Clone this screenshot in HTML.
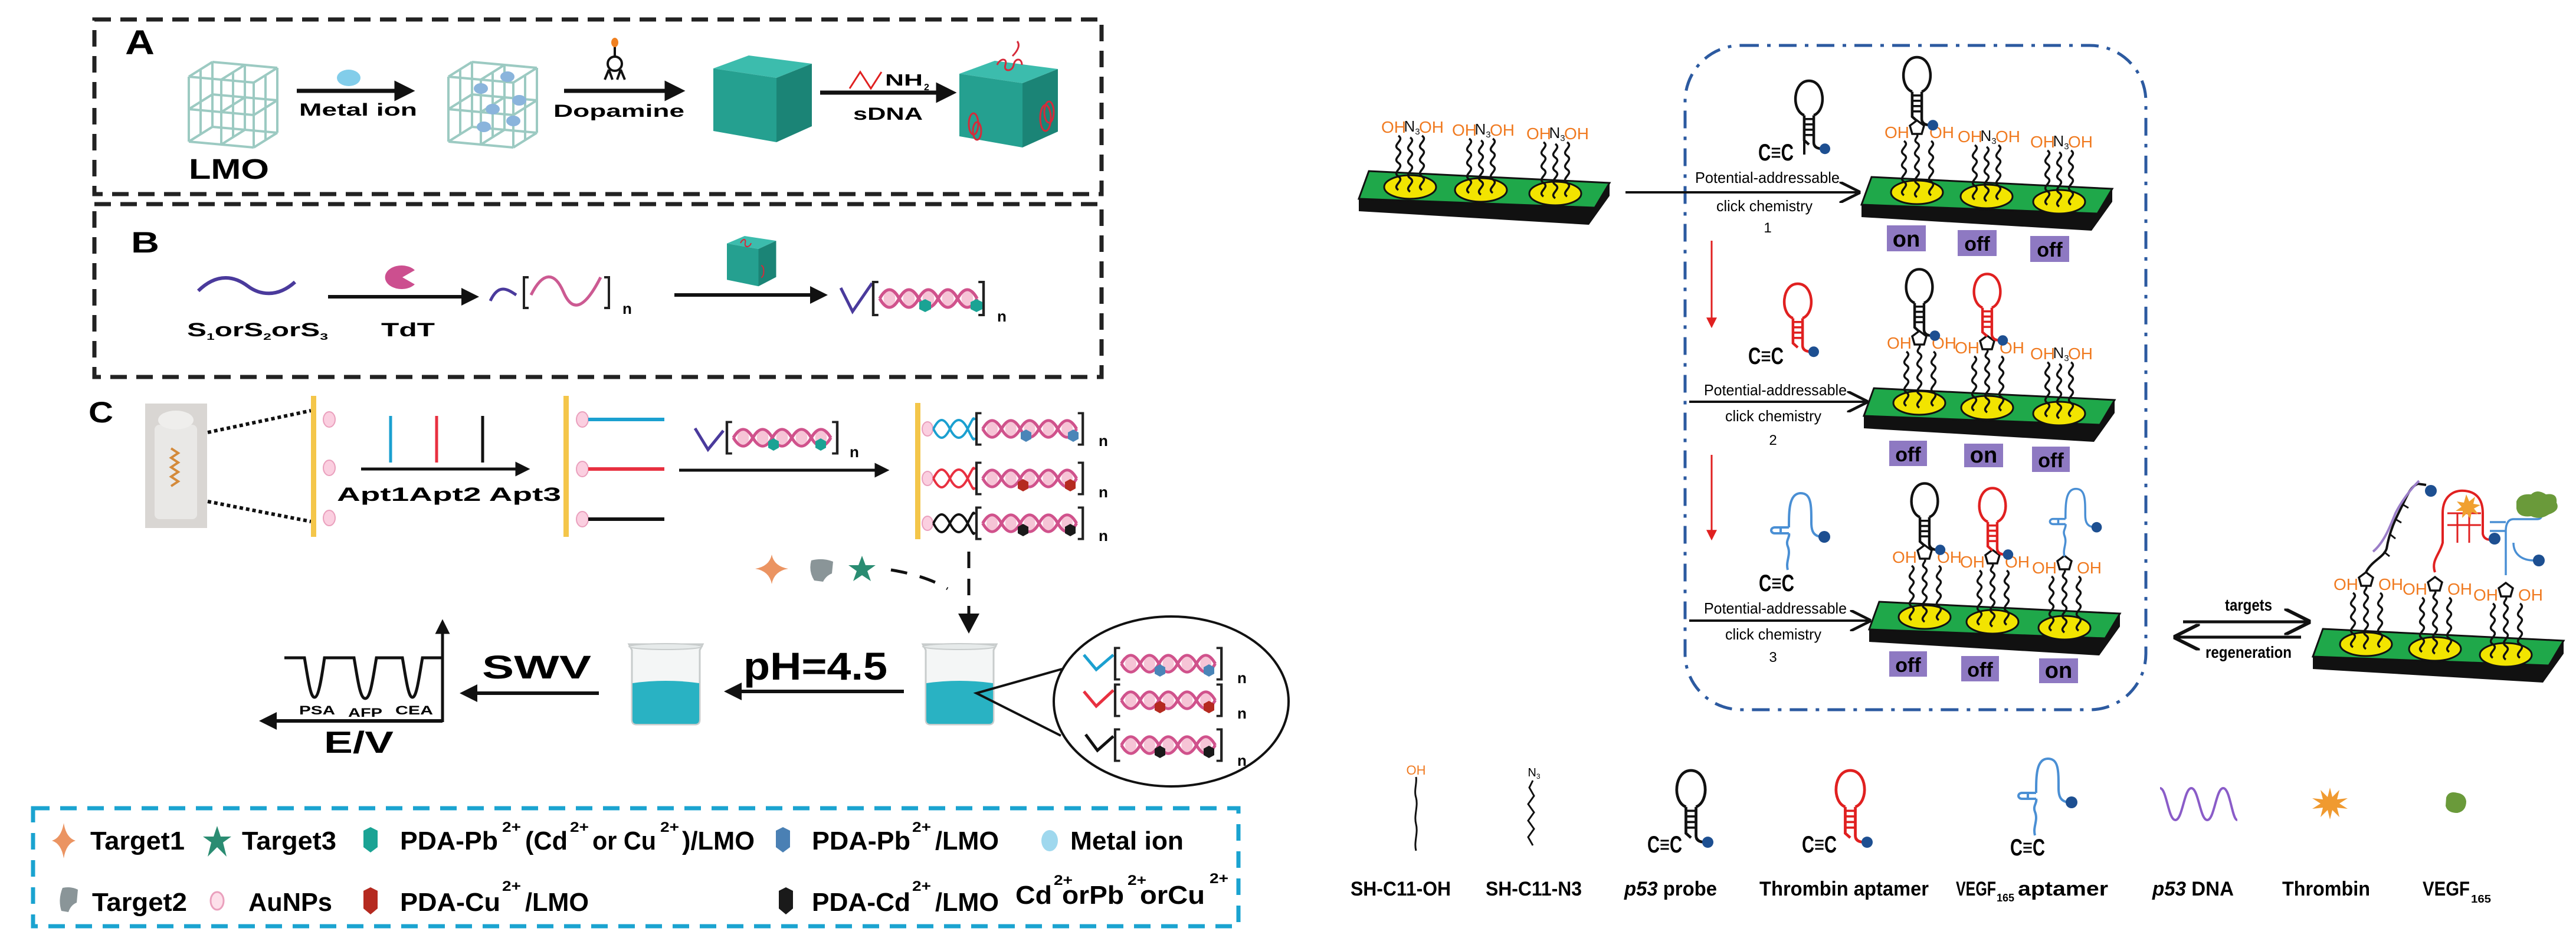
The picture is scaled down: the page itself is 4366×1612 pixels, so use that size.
<!DOCTYPE html>
<html><head><meta charset="utf-8">
<style>
html,body{margin:0;padding:0;background:#fff;}
svg{display:block;}
text{font-family:"Liberation Sans",sans-serif;}
.b{font-weight:bold;}
</style></head>
<body>
<svg width="4366" height="1612" viewBox="0 0 4366 1612" xmlns="http://www.w3.org/2000/svg">
<defs>
<marker id="ah" viewBox="0 0 10 10" refX="1" refY="5" markerWidth="5" markerHeight="5" orient="auto"><path d="M0,0 L10,5 L0,10 z" fill="#111"/></marker>
<marker id="oh" viewBox="0 0 10 10" refX="9" refY="5" markerWidth="9" markerHeight="9" orient="auto"><path d="M0,0 L10,5 L0,10" fill="none" stroke="#111" stroke-width="1.3"/></marker>
<marker id="rh" viewBox="0 0 10 10" refX="1" refY="5" markerWidth="6" markerHeight="6" orient="auto"><path d="M0,0 L10,5 L0,10 z" fill="#e02020"/></marker>

<g id="hx">
 <ellipse cx="25" cy="0" rx="9" ry="14" fill="#f6c4d6"/><ellipse cx="55" cy="0" rx="9" ry="14" fill="#f6c4d6"/>
 <ellipse cx="85" cy="0" rx="9" ry="14" fill="#f6c4d6"/><ellipse cx="115" cy="0" rx="9" ry="14" fill="#f6c4d6"/><ellipse cx="145" cy="0" rx="9" ry="14" fill="#f6c4d6"/>
 <path d="M10,0 C20,-20 30,-20 40,0 S60,20 70,0 S90,-20 100,0 S120,20 130,0 S150,-20 160,0" stroke="#d0528c" stroke-width="5" fill="none"/>
 <path d="M10,0 C20,20 30,20 40,0 S60,-20 70,0 S90,20 100,0 S120,-20 130,0 S150,20 160,0" stroke="#d0528c" stroke-width="5" fill="none"/>
 <path d="M8,-28 H0 V28 H8 M162,-28 H170 V28 H162" stroke="#222" stroke-width="4" fill="none"/>
</g>

<g id="ch"><path d="M0,0 c-12,-8 12,-15 0,-23 c-12,-8 12,-15 0,-23 c-12,-8 12,-15 0,-23 c-12,-8 12,-15 0,-23" stroke="#111" stroke-width="3.5" fill="none"/></g>
<g id="ell"><ellipse cx="0" cy="0" rx="44" ry="20" fill="#f2e400" stroke="#111" stroke-width="3"/></g>
<g id="sN">
 <use href="#ell"/>
 <use href="#ch" x="-20" y="5"/><use href="#ch" x="0" y="8"/><use href="#ch" x="20" y="5"/>
 <text x="-28" y="-92" font-size="28" fill="#f07a20" text-anchor="middle">OH</text>
 <text x="3" y="-94" font-size="26" fill="#111" text-anchor="middle">N<tspan font-size="15" dy="5">3</tspan></text>
 <text x="36" y="-92" font-size="28" fill="#f07a20" text-anchor="middle">OH</text>
</g>
<g id="sP">
 <use href="#ell"/>
 <use href="#ch" x="-22" y="5"/><use href="#ch" x="24" y="5"/>
 <path d="M0,8 c-12,-8 12,-15 0,-23 c-12,-8 12,-15 0,-23 c-12,-8 12,-15 0,-23 c-12,-8 12,-15 0,-23 c-8,-5 4,-10 0,-14" stroke="#111" stroke-width="3.5" fill="none"/>
 <polygon points="0,-122 12,-113 8,-99 -8,-99 -12,-113" fill="#fff" stroke="#111" stroke-width="3.5"/>
 <text x="-34" y="-92" font-size="28" fill="#f07a20" text-anchor="middle">OH</text>
 <text x="42" y="-92" font-size="28" fill="#f07a20" text-anchor="middle">OH</text>
</g>
<g id="hp">
 <path d="M0,0 L-9,-8 V-55 M9,-55 V-4 Q9,8 26,8" stroke="currentColor" stroke-width="5" fill="none"/>
 <path d="M-9,-18 H9 M-9,-28 H9 M-9,-38 H9 M-9,-48 H9" stroke="currentColor" stroke-width="4"/>
 <path d="M-9,-55 C-34,-65 -30,-120 0,-120 C30,-120 34,-65 9,-55" stroke="currentColor" stroke-width="5" fill="none"/>
 <circle cx="30" cy="8" r="10" fill="#1d4f91"/>
</g>
<g id="vg">
 <path d="M0,0 C-4,-15 6,-25 0,-40 C-4,-50 4,-55 2,-62 M2,-72 C2,-100 2,-130 22,-130 C40,-130 40,-110 40,-80 C40,-65 44,-58 56,-56" stroke="#4a8fd4" stroke-width="4" fill="none"/>
 <path d="M2,-62 H-22 M2,-72 H-22 M-22,-62 A6,5 0 0 1 -22,-72 M-12,-62 V-72" stroke="#4a8fd4" stroke-width="4" fill="none"/>
 <circle cx="62" cy="-56" r="10" fill="#1d4f91"/>
</g>
<g id="chip">
 <polygon points="0,47 0,68 390,91 425,42 425,20" fill="#111"/>
 <polygon points="17,0 425,20 400,62 0,47" fill="#1fa84a" stroke="#111" stroke-width="3"/>
</g>
<g id="lat" stroke="#9ccac2" stroke-width="4" fill="none">
 <path d="M0,35 V145 M55,40 V150 M110,45 V155 M0,35 L110,45 M0,90 L110,100 M0,145 L110,155"/>
 <path d="M40,10 V120 M95,15 V125 M150,20 V130 M40,10 L150,20 M40,65 L150,75 M40,120 L150,130"/>
 <path d="M0,35 L40,10 M55,40 L95,15 M110,45 L150,20 M0,90 L40,65 M55,95 L95,70 M110,100 L150,75 M0,145 L40,120 M55,150 L95,125 M110,155 L150,130"/>
 <path d="M20,22 V132 M75,27 V137 M130,32 V142"/>
</g>
<g id="cube">
 <polygon points="0,22 60,0 167,14 107,38" fill="#3cbcad"/>
 <polygon points="0,22 107,38 107,147 0,128" fill="#25a090"/>
 <polygon points="107,38 167,14 167,120 107,147" fill="#1b8476"/>
</g>
<g id="beaker">
 <path d="M0,0 H125 L120,10 V128 Q120,136 112,136 H13 Q5,136 5,128 V10 Z" fill="#f4f6f6" stroke="#c8cccc" stroke-width="3"/>
 <path d="M6,66 Q62,58 119,66 V128 Q119,135 112,135 H13 Q6,135 6,128 Z" fill="#29b2c3"/>
 <ellipse cx="62" cy="4" rx="62" ry="5" fill="#e6eaea" stroke="#c8cccc" stroke-width="2"/>
</g>
</defs>

<!-- ================= LEFT PANEL ================= -->
<rect x="160" y="33" width="1707" height="296" fill="none" stroke="#222" stroke-width="7" stroke-dasharray="28,16"/>
<text x="212" y="92" class="b" font-size="58" textLength="50" lengthAdjust="spacingAndGlyphs">A</text>
<use href="#lat" x="320" y="95"/>
<text x="320" y="303" class="b" font-size="48" textLength="136" lengthAdjust="spacingAndGlyphs">LMO</text>
<line x1="503" y1="154" x2="672" y2="154" stroke="#111" stroke-width="7" marker-end="url(#ah)"/>
<ellipse cx="591" cy="132" rx="20" ry="14" fill="#82cdea"/>
<text x="507" y="196" class="b" font-size="30" textLength="200" lengthAdjust="spacingAndGlyphs">Metal ion</text>
<use href="#lat" x="760" y="95"/>
<g fill="#8ab4dc"><ellipse cx="815" cy="150" rx="12" ry="9"/><ellipse cx="860" cy="130" rx="12" ry="9"/><ellipse cx="835" cy="185" rx="12" ry="9"/><ellipse cx="880" cy="170" rx="12" ry="9"/><ellipse cx="820" cy="215" rx="12" ry="9"/><ellipse cx="870" cy="205" rx="12" ry="9"/></g>
<line x1="956" y1="154" x2="1130" y2="154" stroke="#111" stroke-width="7" marker-end="url(#ah)"/>
<g stroke="#111" stroke-width="4" fill="none"><circle cx="1042" cy="108" r="12"/><line x1="1042" y1="78" x2="1042" y2="96"/><path d="M1032,118 L1025,135 M1032,118 L1038,135 M1052,118 L1046,135 M1052,118 L1059,135"/></g>
<ellipse cx="1042" cy="72" rx="6" ry="8" fill="#f08020"/>
<text x="938" y="198" class="b" font-size="30" textLength="222" lengthAdjust="spacingAndGlyphs">Dopamine</text>
<use href="#cube" x="1209" y="94"/>
<line x1="1390" y1="157" x2="1590" y2="157" stroke="#111" stroke-width="7" marker-end="url(#ah)"/>
<path d="M1440,150 L1458,122 L1476,150 L1494,122" stroke="#e02020" stroke-width="3" fill="none"/>
<text x="1500" y="145" class="b" font-size="28" textLength="64" lengthAdjust="spacingAndGlyphs">NH</text>
<text x="1566" y="153" class="b" font-size="16">2</text>
<text x="1446" y="203" class="b" font-size="30" textLength="118" lengthAdjust="spacingAndGlyphs">sDNA</text>
<use href="#cube" x="1626" y="103"/>
<g stroke="#d62a3a" stroke-width="3" fill="none"><path d="M1690,110 c5,-12 18,-12 14,0 c-4,12 12,12 14,0 c2,-12 14,-12 14,0 M1716,95 c8,-8 14,-18 8,-25"/><ellipse cx="1772" cy="200" rx="9" ry="22"/><ellipse cx="1778" cy="190" rx="8" ry="18"/><ellipse cx="1650" cy="210" rx="8" ry="18"/><ellipse cx="1656" cy="222" rx="7" ry="15"/></g>

<rect x="160" y="346" width="1707" height="293" fill="none" stroke="#222" stroke-width="7" stroke-dasharray="28,16"/>
<text x="222" y="428" class="b" font-size="50" textLength="48" lengthAdjust="spacingAndGlyphs">B</text>
<path d="M336,493 C370,460 400,470 420,485 S470,505 500,478" stroke="#4a3a9c" stroke-width="6" fill="none"/>
<text x="317" y="570" class="b" font-size="32" textLength="239" lengthAdjust="spacingAndGlyphs">S<tspan font-size="16" dy="6">1</tspan><tspan dy="-6">orS</tspan><tspan font-size="16" dy="6">2</tspan><tspan dy="-6">orS</tspan><tspan font-size="16" dy="6">3</tspan></text>
<line x1="556" y1="503" x2="785" y2="503" stroke="#111" stroke-width="6" marker-end="url(#ah)"/>
<path d="M677,470 m26,-12 A28,20 0 1 0 703,482 L682,470 Z" fill="#cc4f8f"/>
<text x="646" y="570" class="b" font-size="32" textLength="91" lengthAdjust="spacingAndGlyphs">TdT</text>
<path d="M831,510 C845,480 860,490 875,500" stroke="#4a3a9c" stroke-width="5" fill="none"/>
<path d="M896,470 H888 V522 H896 M1024,470 H1032 V522 H1024" stroke="#222" stroke-width="4" fill="none"/>
<path d="M900,500 C920,460 940,460 955,495 S990,525 1018,470" stroke="#cc5a92" stroke-width="5" fill="none"/>
<text x="1055" y="532" class="b" font-size="26">n</text>
<line x1="1143" y1="500" x2="1376" y2="500" stroke="#111" stroke-width="6" marker-end="url(#ah)"/>
<g transform="translate(1232,400) scale(0.5,0.58)"><use href="#cube"/></g>
<path d="M1255,412 c4,-8 10,-8 8,0 c-2,8 8,8 10,0 M1290,450 c6,0 6,20 0,20" stroke="#d62a3a" stroke-width="2" fill="none"/>
<path d="M1425,488 L1445,528 L1478,480" stroke="#4a3a9c" stroke-width="5" fill="none"/>
<g transform="translate(1480,506) scale(1.1,1)"><use href="#hx"/></g>
<polygon points="1558,512 1568,507 1578,512 1578,524 1568,529 1558,524" fill="#1aa394"/>
<polygon points="1645,512 1655,507 1665,512 1665,524 1655,529 1645,524" fill="#1aa394"/>
<text x="1690" y="545" class="b" font-size="26">n</text>

<text x="150" y="716" class="b" font-size="50" textLength="42" lengthAdjust="spacingAndGlyphs">C</text>
<rect x="246" y="684" width="105" height="211" fill="#d9d6d3"/>
<rect x="262" y="720" width="72" height="160" rx="8" fill="#e9e8e6"/>
<ellipse cx="298" cy="712" rx="30" ry="16" fill="#efeeec"/>
<path d="M290,760 l12,8 l-12,8 l12,8 l-12,8 l12,8 l-12,8 l12,8 l-12,8" stroke="#d48a3a" stroke-width="4" fill="none"/>
<line x1="352" y1="733" x2="527" y2="696" stroke="#111" stroke-width="6" stroke-dasharray="6,5"/>
<line x1="352" y1="850" x2="527" y2="884" stroke="#111" stroke-width="6" stroke-dasharray="6,5"/>
<rect x="527" y="671" width="9" height="239" fill="#f4c64a"/>
<g fill="#fbcfe0" stroke="#eaa0bd" stroke-width="2"><ellipse cx="558" cy="711" rx="10" ry="13"/><ellipse cx="558" cy="793" rx="10" ry="13"/><ellipse cx="558" cy="878" rx="10" ry="13"/></g>
<line x1="662" y1="705" x2="662" y2="784" stroke="#1ba0d0" stroke-width="5"/>
<line x1="740" y1="705" x2="740" y2="784" stroke="#e83040" stroke-width="5"/>
<line x1="818" y1="705" x2="818" y2="784" stroke="#111" stroke-width="5"/>
<line x1="612" y1="795" x2="876" y2="795" stroke="#111" stroke-width="5" marker-end="url(#ah)"/>
<text x="571" y="849" class="b" font-size="32" textLength="380" lengthAdjust="spacingAndGlyphs">Apt1Apt2 Apt3</text>
<rect x="955" y="671" width="9" height="239" fill="#f4c64a"/>
<g fill="#fbcfe0" stroke="#eaa0bd" stroke-width="2"><ellipse cx="987" cy="711" rx="10" ry="13"/><ellipse cx="987" cy="795" rx="10" ry="13"/><ellipse cx="987" cy="880" rx="10" ry="13"/></g>
<line x1="997" y1="711" x2="1126" y2="711" stroke="#1ba0d0" stroke-width="6"/>
<line x1="997" y1="795" x2="1126" y2="795" stroke="#e83040" stroke-width="6"/>
<line x1="997" y1="880" x2="1126" y2="880" stroke="#111" stroke-width="6"/>
<path d="M1178,726 L1200,762 L1226,730" stroke="#4a3a9c" stroke-width="5" fill="none"/>
<g transform="translate(1232,742) scale(1.1,0.95)"><use href="#hx"/></g>
<polygon points="1302,748 1311,743 1320,748 1320,759 1311,764 1302,759" fill="#1aa394"/>
<polygon points="1382,748 1391,743 1400,748 1400,759 1391,764 1382,759" fill="#1aa394"/>
<text x="1440" y="775" class="b" font-size="26">n</text>
<line x1="1151" y1="797" x2="1485" y2="797" stroke="#111" stroke-width="5" marker-end="url(#ah)"/>
<rect x="1551" y="683" width="9" height="231" fill="#f4c64a"/>
<g fill="#fbcfe0" stroke="#eaa0bd" stroke-width="2"><ellipse cx="1572" cy="727" rx="9" ry="12"/><ellipse cx="1572" cy="811" rx="9" ry="12"/><ellipse cx="1572" cy="887" rx="9" ry="12"/></g>
<path d="M1582,727 C1592,707 1600,707 1610,727 S1630,747 1640,727 S1650,707 1652,712" stroke="#1ba0d0" stroke-width="4" fill="none"/>
<path d="M1582,727 C1592,747 1600,747 1610,727 S1630,707 1640,727 S1650,747 1652,742" stroke="#1ba0d0" stroke-width="4" fill="none"/>
<path d="M1582,811 C1592,791 1600,791 1610,811 S1630,831 1640,811 S1650,791 1652,796" stroke="#e83040" stroke-width="4" fill="none"/>
<path d="M1582,811 C1592,831 1600,831 1610,811 S1630,791 1640,811 S1650,831 1652,826" stroke="#e83040" stroke-width="4" fill="none"/>
<path d="M1582,887 C1592,867 1600,867 1610,887 S1630,907 1640,887 S1650,867 1652,872" stroke="#111" stroke-width="4" fill="none"/>
<path d="M1582,887 C1592,907 1600,907 1610,887 S1630,867 1640,887 S1650,907 1652,902" stroke="#111" stroke-width="4" fill="none"/>
<g transform="translate(1655,727) scale(1.06,0.95)"><use href="#hx"/></g>
<g transform="translate(1655,811) scale(1.06,0.95)"><use href="#hx"/></g>
<g transform="translate(1655,887) scale(1.06,0.95)"><use href="#hx"/></g>
<g fill="#4a85b8"><polygon points="1730,733 1739,728 1748,733 1748,744 1739,749 1730,744"/><polygon points="1810,733 1819,728 1828,733 1828,744 1819,749 1810,744"/></g>
<g fill="#b52a20"><polygon points="1725,817 1734,812 1743,817 1743,828 1734,833 1725,828"/><polygon points="1805,817 1814,812 1823,817 1823,828 1814,833 1805,828"/></g>
<g fill="#1a1a1a"><polygon points="1725,893 1734,888 1743,893 1743,904 1734,909 1725,904"/><polygon points="1805,893 1814,888 1823,893 1823,904 1814,909 1805,904"/></g>
<text x="1862" y="756" class="b" font-size="26">n</text>
<text x="1862" y="843" class="b" font-size="26">n</text>
<text x="1862" y="917" class="b" font-size="26">n</text>

<path d="M1308,940 Q1312,960 1336,964 Q1312,968 1308,990 Q1304,968 1280,964 Q1304,960 1308,940 Z" fill="#eb9462"/>
<path d="M1375,950 Q1395,945 1412,952 L1410,972 Q1400,976 1395,986 L1380,984 Q1370,968 1375,950 Z" fill="#8a9598"/>
<polygon points="1461,942 1467,958 1484,958 1470,968 1476,985 1461,975 1446,985 1452,968 1438,958 1455,958" fill="#2a8c72"/>
<path d="M1510,966 Q1570,976 1606,998" stroke="#111" stroke-width="5" fill="none" stroke-dasharray="28,22"/>
<line x1="1642" y1="935" x2="1642" y2="1040" stroke="#111" stroke-width="5" stroke-dasharray="28,18"/>
<polygon points="1624,1040 1660,1040 1642,1074" fill="#111"/>

<use href="#beaker" x="1564" y="1092"/>
<use href="#beaker" x="1066" y="1092"/>
<line x1="1532" y1="1172" x2="1254" y2="1172" stroke="#111" stroke-width="6" marker-end="url(#ah)"/>
<text x="1260" y="1152" class="b" font-size="66" textLength="244" lengthAdjust="spacingAndGlyphs">pH=4.5</text>
<line x1="1015" y1="1175" x2="806" y2="1175" stroke="#111" stroke-width="6" marker-end="url(#ah)"/>
<text x="817" y="1150" class="b" font-size="56" textLength="185" lengthAdjust="spacingAndGlyphs">SWV</text>
<path d="M482,1115 H516 C522,1150 526,1182 533,1182 C540,1182 545,1150 550,1115 H600 C606,1150 610,1184 619,1184 C628,1184 632,1150 638,1115 H682 C688,1150 692,1182 699,1182 C706,1182 710,1150 716,1115 H750" stroke="#111" stroke-width="5" fill="none"/>
<line x1="750" y1="1224" x2="750" y2="1072" stroke="#111" stroke-width="5" marker-end="url(#ah)"/>
<line x1="750" y1="1222" x2="466" y2="1222" stroke="#111" stroke-width="6" marker-end="url(#ah)"/>
<text x="507" y="1211" class="b" font-size="21" textLength="61" lengthAdjust="spacingAndGlyphs">PSA</text>
<text x="590" y="1215" class="b" font-size="21" textLength="58" lengthAdjust="spacingAndGlyphs">AFP</text>
<text x="670" y="1211" class="b" font-size="21" textLength="64" lengthAdjust="spacingAndGlyphs">CEA</text>
<text x="549" y="1276" class="b" font-size="52" textLength="118" lengthAdjust="spacingAndGlyphs">E/V</text>

<path d="M1800,1134 L1655,1175 L1798,1247" stroke="#111" stroke-width="4" fill="none"/>
<ellipse cx="1985" cy="1189" rx="199" ry="144" fill="#fff" stroke="#111" stroke-width="4"/>
<path d="M1837,1110 L1858,1135 L1887,1110" stroke="#1ba0d0" stroke-width="5" fill="none"/>
<path d="M1837,1172 L1858,1197 L1887,1170" stroke="#e83040" stroke-width="5" fill="none"/>
<path d="M1840,1245 L1860,1272 L1887,1248" stroke="#111" stroke-width="5" fill="none"/>
<g transform="translate(1890,1125) scale(1.06,0.95)"><use href="#hx"/></g>
<g transform="translate(1890,1187) scale(1.06,0.95)"><use href="#hx"/></g>
<g transform="translate(1890,1263) scale(1.06,0.95)"><use href="#hx"/></g>
<g fill="#4a85b8"><polygon points="1957,1131 1966,1126 1975,1131 1975,1142 1966,1147 1957,1142"/><polygon points="2040,1131 2049,1126 2058,1131 2058,1142 2049,1147 2040,1142"/></g>
<g fill="#b52a20"><polygon points="1957,1193 1966,1188 1975,1193 1975,1204 1966,1209 1957,1204"/><polygon points="2040,1193 2049,1188 2058,1193 2058,1204 2049,1209 2040,1204"/></g>
<g fill="#1a1a1a"><polygon points="1957,1269 1966,1264 1975,1269 1975,1280 1966,1285 1957,1280"/><polygon points="2040,1269 2049,1264 2058,1269 2058,1280 2049,1285 2040,1280"/></g>
<text x="2097" y="1158" class="b" font-size="26">n</text>
<text x="2097" y="1218" class="b" font-size="26">n</text>
<text x="2097" y="1298" class="b" font-size="26">n</text>

<rect x="56" y="1370" width="2043" height="200" fill="none" stroke="#1aa3d0" stroke-width="7" stroke-dasharray="28,18"/>
<g class="b">
<path d="M108,1395 Q112,1420 128,1425 Q112,1430 108,1455 Q104,1430 88,1425 Q104,1420 108,1395 Z" fill="#eb9462"/>
<text x="153" y="1440" font-size="44" textLength="160" lengthAdjust="spacingAndGlyphs">Target1</text>
<polygon points="368,1400 374,1418 392,1418 378,1428 384,1452 368,1436 352,1452 358,1428 344,1418 362,1418" fill="#2a8c72"/>
<text x="410" y="1440" font-size="44" textLength="160" lengthAdjust="spacingAndGlyphs">Target3</text>
<polygon points="616,1408 628,1402 640,1408 640,1436 628,1445 616,1436" fill="#1aa394"/>
<text x="678" y="1440" font-size="44" textLength="166" lengthAdjust="spacingAndGlyphs">PDA-Pb</text>
<text x="851" y="1410" font-size="24" textLength="32" lengthAdjust="spacingAndGlyphs">2+</text>
<text x="890" y="1440" font-size="44" textLength="72" lengthAdjust="spacingAndGlyphs">(Cd</text>
<text x="966" y="1410" font-size="24" textLength="32" lengthAdjust="spacingAndGlyphs">2+</text>
<text x="1004" y="1440" font-size="44" textLength="108" lengthAdjust="spacingAndGlyphs">or Cu</text>
<text x="1119" y="1410" font-size="24" textLength="32" lengthAdjust="spacingAndGlyphs">2+</text>
<text x="1156" y="1440" font-size="44" textLength="123" lengthAdjust="spacingAndGlyphs">)/LMO</text>
<polygon points="1315,1408 1327,1402 1339,1408 1339,1436 1327,1445 1315,1436" fill="#4a80b4"/>
<text x="1376" y="1440" font-size="44" textLength="167" lengthAdjust="spacingAndGlyphs">PDA-Pb</text>
<text x="1546" y="1410" font-size="24" textLength="32" lengthAdjust="spacingAndGlyphs">2+</text>
<text x="1585" y="1440" font-size="44" textLength="108" lengthAdjust="spacingAndGlyphs">/LMO</text>
<ellipse cx="1779" cy="1425" rx="14" ry="18" fill="#9fd8ee"/>
<text x="1814" y="1440" font-size="44" textLength="192" lengthAdjust="spacingAndGlyphs">Metal ion</text>
<path d="M106,1505 Q120,1502 132,1508 L130,1530 Q120,1534 116,1546 L104,1544 Q98,1525 106,1505 Z" fill="#8a9598"/>
<text x="156" y="1544" font-size="44" textLength="161" lengthAdjust="spacingAndGlyphs">Target2</text>
<ellipse cx="368" cy="1527" rx="11" ry="15" fill="#fde0ea" stroke="#eaa0bd" stroke-width="3"/>
<text x="421" y="1544" font-size="44" textLength="142" lengthAdjust="spacingAndGlyphs">AuNPs</text>
<polygon points="616,1510 628,1504 640,1510 640,1540 628,1550 616,1540" fill="#b52a20"/>
<text x="678" y="1544" font-size="44" textLength="170" lengthAdjust="spacingAndGlyphs">PDA-Cu</text>
<text x="851" y="1510" font-size="24" textLength="32" lengthAdjust="spacingAndGlyphs">2+</text>
<text x="890" y="1544" font-size="44" textLength="108" lengthAdjust="spacingAndGlyphs">/LMO</text>
<polygon points="1320,1510 1332,1504 1344,1510 1344,1540 1332,1550 1320,1540" fill="#1a1a1a"/>
<text x="1376" y="1544" font-size="44" textLength="167" lengthAdjust="spacingAndGlyphs">PDA-Cd</text>
<text x="1546" y="1510" font-size="24" textLength="32" lengthAdjust="spacingAndGlyphs">2+</text>
<text x="1585" y="1544" font-size="44" textLength="108" lengthAdjust="spacingAndGlyphs">/LMO</text>
<text x="1721" y="1532" font-size="44" textLength="62" lengthAdjust="spacingAndGlyphs">Cd</text>
<text x="1786" y="1500" font-size="24" textLength="32" lengthAdjust="spacingAndGlyphs">2+</text>
<text x="1800" y="1532" font-size="44" textLength="105" lengthAdjust="spacingAndGlyphs">orPb</text>
<text x="1911" y="1500" font-size="24" textLength="32" lengthAdjust="spacingAndGlyphs">2+</text>
<text x="1932" y="1532" font-size="44" textLength="110" lengthAdjust="spacingAndGlyphs">orCu</text>
<text x="2050" y="1497" font-size="24" textLength="32" lengthAdjust="spacingAndGlyphs">2+</text>
</g>

<!-- ================= RIGHT PANEL ================= -->
<rect x="2856" y="77" width="781" height="1126" rx="95" fill="none" stroke="#2c5aa0" stroke-width="5" stroke-dasharray="30,14,6,14"/>

<use href="#chip" x="2303" y="290"/>
<use href="#sN" x="2390" y="317"/><use href="#sN" x="2510" y="322"/><use href="#sN" x="2636" y="328"/>
<line x1="2755" y1="326" x2="3150" y2="326" stroke="#111" stroke-width="4" marker-end="url(#oh)"/>
<text x="2873" y="310" font-size="26" textLength="245" lengthAdjust="spacingAndGlyphs">Potential-addressable</text>
<text x="2909" y="358" font-size="26" textLength="163" lengthAdjust="spacingAndGlyphs">click chemistry</text>
<text x="2996" y="394" font-size="24" text-anchor="middle">1</text>

<g transform="translate(3066,245) scale(0.9)" style="color:#111"><use href="#hp"/></g>
<path d="M3058,238 V262" stroke="#111" stroke-width="4"/>
<text x="2980" y="272" class="b" font-size="40" textLength="60" lengthAdjust="spacingAndGlyphs">C≡C</text>
<use href="#chip" x="3155" y="300"/>
<use href="#sP" x="3249" y="326"/><use href="#sN" x="3367" y="333"/><use href="#sN" x="3490" y="342"/>
<g transform="translate(3249,205) scale(0.9)" style="color:#111"><use href="#hp"/></g>
<rect x="3198" y="382" width="66" height="44" fill="#8e79c2"/><text x="3231" y="418" class="b" font-size="38" text-anchor="middle">on</text>
<rect x="3318" y="390" width="66" height="44" fill="#8e79c2"/><text x="3351" y="425" class="b" font-size="34" text-anchor="middle">off</text>
<rect x="3441" y="400" width="66" height="44" fill="#8e79c2"/><text x="3474" y="435" class="b" font-size="34" text-anchor="middle">off</text>

<line x1="2901" y1="408" x2="2901" y2="540" stroke="#e02020" stroke-width="3" marker-end="url(#rh)"/>
<line x1="2901" y1="771" x2="2901" y2="900" stroke="#e02020" stroke-width="3" marker-end="url(#rh)"/>

<g transform="translate(3047,589) scale(0.9)" style="color:#e02020"><use href="#hp"/></g>
<text x="2963" y="617" class="b" font-size="40" textLength="60" lengthAdjust="spacingAndGlyphs">C≡C</text>
<line x1="2863" y1="681" x2="3163" y2="681" stroke="#111" stroke-width="4" marker-end="url(#oh)"/>
<text x="2888" y="670" font-size="26" textLength="242" lengthAdjust="spacingAndGlyphs">Potential-addressable</text>
<text x="2924" y="714" font-size="26" textLength="163" lengthAdjust="spacingAndGlyphs">click chemistry</text>
<text x="3005" y="754" font-size="24" text-anchor="middle">2</text>
<use href="#chip" x="3159" y="658"/>
<use href="#sP" x="3253" y="683"/><use href="#sP" x="3368" y="691"/><use href="#sN" x="3490" y="701"/>
<g transform="translate(3253,562) scale(0.88)" style="color:#111"><use href="#hp"/></g>
<g transform="translate(3368,570) scale(0.88)" style="color:#e02020"><use href="#hp"/></g>
<rect x="3202" y="747" width="64" height="43" fill="#8e79c2"/><text x="3234" y="782" class="b" font-size="34" text-anchor="middle">off</text>
<rect x="3329" y="752" width="66" height="40" fill="#8e79c2"/><text x="3362" y="784" class="b" font-size="38" text-anchor="middle">on</text>
<rect x="3444" y="757" width="64" height="43" fill="#8e79c2"/><text x="3476" y="792" class="b" font-size="34" text-anchor="middle">off</text>

<use href="#vg" x="3030" y="966"/>
<text x="2981" y="1002" class="b" font-size="40" textLength="60" lengthAdjust="spacingAndGlyphs">C≡C</text>
<line x1="2863" y1="1052" x2="3168" y2="1052" stroke="#111" stroke-width="4" marker-end="url(#oh)"/>
<text x="2888" y="1040" font-size="26" textLength="242" lengthAdjust="spacingAndGlyphs">Potential-addressable</text>
<text x="2924" y="1084" font-size="26" textLength="163" lengthAdjust="spacingAndGlyphs">click chemistry</text>
<text x="3005" y="1122" font-size="24" text-anchor="middle">3</text>
<use href="#chip" x="3168" y="1020"/>
<use href="#sP" x="3262" y="1046"/><use href="#sP" x="3377" y="1054"/><use href="#sP" x="3499" y="1064"/>
<g transform="translate(3262,925) scale(0.88)" style="color:#111"><use href="#hp"/></g>
<g transform="translate(3377,933) scale(0.88)" style="color:#e02020"><use href="#hp"/></g>
<g transform="translate(3499,943) scale(0.88)"><use href="#vg"/></g>
<rect x="3202" y="1104" width="64" height="43" fill="#8e79c2"/><text x="3234" y="1139" class="b" font-size="34" text-anchor="middle">off</text>
<rect x="3324" y="1112" width="64" height="43" fill="#8e79c2"/><text x="3356" y="1147" class="b" font-size="34" text-anchor="middle">off</text>
<rect x="3456" y="1116" width="66" height="42" fill="#8e79c2"/><text x="3489" y="1149" class="b" font-size="38" text-anchor="middle">on</text>

<line x1="3700" y1="1054" x2="3912" y2="1054" stroke="#111" stroke-width="5" marker-end="url(#oh)"/>
<line x1="3900" y1="1080" x2="3688" y2="1080" stroke="#111" stroke-width="5" marker-end="url(#oh)"/>
<text x="3811" y="1035" font-size="28" text-anchor="middle" font-family="Liberation Serif" font-weight="bold" textLength="80" lengthAdjust="spacingAndGlyphs">targets</text>
<text x="3811" y="1115" font-size="28" text-anchor="middle" font-family="Liberation Serif" font-weight="bold" textLength="146" lengthAdjust="spacingAndGlyphs">regeneration</text>

<use href="#chip" x="3920" y="1066"/>
<use href="#sP" x="4010" y="1092"/><use href="#sP" x="4127" y="1100"/><use href="#sP" x="4247" y="1110"/>
<path d="M4010,970 C4020,950 4040,945 4045,930 C4050,900 4060,880 4070,860 C4080,840 4085,825 4098,820 L4112,822" stroke="#111" stroke-width="4" fill="none"/>
<path d="M4022,935 C4040,920 4050,895 4060,870 C4070,850 4085,830 4100,815" stroke="#9b7ec8" stroke-width="4" fill="none"/>
<path d="M4040,935 l10,8 M4050,905 l10,8 M4060,880 l10,6 M4072,855 l10,6" stroke="#111" stroke-width="3"/>
<circle cx="4120" cy="832" r="10" fill="#1d4f91"/>
<path d="M4127,970 C4120,950 4135,940 4140,920 V870 C4140,840 4160,830 4178,832 C4196,834 4208,845 4208,870 V905 Q4210,915 4222,915" stroke="#e02020" stroke-width="4" fill="none"/>
<path d="M4148,870 H4205 M4148,890 H4205 M4165,870 V920 M4185,870 V920" stroke="#e02020" stroke-width="3" fill="none"/>
<path d="M4180,838 l5,12 l10,-8 l-3,12 l12,2 l-11,6 l8,10 l-12,-4 l-2,12 l-6,-10 l-8,8 l1,-12 l-12,0 l10,-7 l-8,-9 l12,2 z" fill="#f0a030"/>
<circle cx="4228" cy="913" r="10" fill="#1d4f91"/>
<path d="M4247,975 V900 C4247,890 4250,880 4260,880 H4300 C4310,880 4310,870 4305,860 M4247,900 H4220 M4247,885 H4220 M4260,920 C4260,940 4275,950 4295,950" stroke="#4a8fd4" stroke-width="3.5" fill="none"/>
<path d="M4265,850 Q4270,836 4290,838 Q4300,828 4315,838 Q4335,835 4333,852 Q4340,865 4320,872 Q4305,882 4290,875 Q4268,878 4265,862 Z" fill="#6a9a3a"/>
<circle cx="4303" cy="950" r="10" fill="#1d4f91"/>

<path d="M2400,1442 c-4,-15 4,-30 0,-45 c-4,-15 4,-30 0,-45 c-4,-12 2,-25 0,-35" stroke="#111" stroke-width="3" fill="none"/>
<text x="2400" y="1313" font-size="22" fill="#f07a20" text-anchor="middle">OH</text>
<path d="M2598,1433 l-8,-14 l10,-14 l-10,-14 l10,-14 l-10,-14 l10,-14 l-8,-14 l6,-12" stroke="#111" stroke-width="3" fill="none"/>
<text x="2600" y="1316" font-size="20" text-anchor="middle">N<tspan font-size="12" dy="4">3</tspan></text>
<g transform="translate(2866,1420) scale(0.95)" style="color:#111"><use href="#hp"/></g>
<text x="2792" y="1445" class="b" font-size="40" textLength="59" lengthAdjust="spacingAndGlyphs">C≡C</text>
<g transform="translate(3136,1420) scale(0.95)" style="color:#e02020"><use href="#hp"/></g>
<text x="3054" y="1445" class="b" font-size="40" textLength="59" lengthAdjust="spacingAndGlyphs">C≡C</text>
<use href="#vg" x="3449" y="1416"/>
<text x="3407" y="1450" class="b" font-size="40" textLength="59" lengthAdjust="spacingAndGlyphs">C≡C</text>
<path d="M3661,1336 C3672,1336 3675,1390 3687,1390 C3699,1390 3702,1336 3714,1336 C3726,1336 3729,1390 3741,1390 C3753,1390 3756,1336 3768,1336 C3780,1336 3783,1390 3792,1390" stroke="#8a5cc8" stroke-width="4" fill="none"/>
<path d="M3949,1335 l4,16 l12,-12 l-4,16 l18,-2 l-14,9 l14,9 l-18,-2 l4,16 l-12,-12 l-4,16 l-4,-16 l-12,12 l4,-16 l-18,2 l14,-9 l-14,-9 l18,2 l-4,-16 l12,12 z" fill="#f09a30"/>
<path d="M4146,1352 Q4150,1340 4165,1344 Q4178,1346 4180,1358 Q4180,1375 4165,1378 Q4148,1378 4145,1366 Z" fill="#6a9a3a"/>
<g class="b" font-size="34">
<text x="2289" y="1518" textLength="170" lengthAdjust="spacingAndGlyphs">SH-C11-OH</text>
<text x="2518" y="1518" textLength="163" lengthAdjust="spacingAndGlyphs">SH-C11-N3</text>
<text x="2753" y="1518" textLength="157" lengthAdjust="spacingAndGlyphs"><tspan font-style="italic">p53</tspan> probe</text>
<text x="2982" y="1518" textLength="287" lengthAdjust="spacingAndGlyphs">Thrombin aptamer</text>
<text x="3315" y="1518" textLength="68" lengthAdjust="spacingAndGlyphs">VEGF</text>
<text x="3384" y="1528" font-size="18" textLength="30" lengthAdjust="spacingAndGlyphs">165</text>
<text x="3420" y="1518" textLength="153" lengthAdjust="spacingAndGlyphs">aptamer</text>
<text x="3648" y="1518" textLength="138" lengthAdjust="spacingAndGlyphs"><tspan font-style="italic">p53</tspan> DNA</text>
<text x="3868" y="1518" textLength="149" lengthAdjust="spacingAndGlyphs">Thrombin</text>
<text x="4106" y="1518" textLength="80" lengthAdjust="spacingAndGlyphs">VEGF</text>
<text x="4188" y="1530" font-size="18" textLength="34" lengthAdjust="spacingAndGlyphs">165</text>
</g>
</svg>
</body></html>
